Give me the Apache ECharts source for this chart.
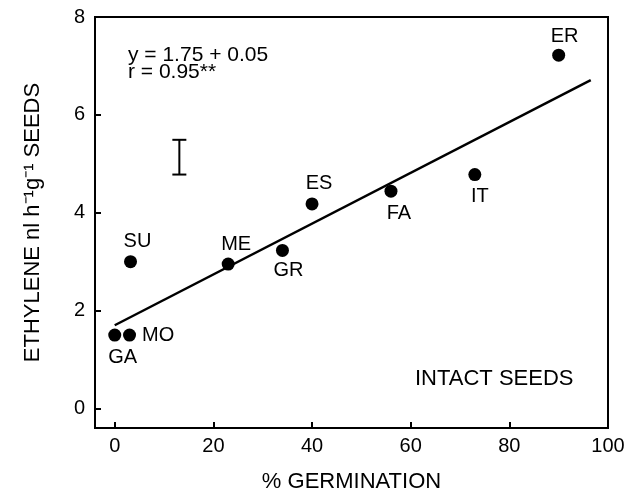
<!DOCTYPE html>
<html>
<head>
<meta charset="utf-8">
<script src="https://cdn.jsdelivr.net/npm/echarts@6/dist/echarts.min.js"></script>
<style>
	html, body { margin: 0; padding: 0; background: #fff; }
	#chart { width: 628px; height: 498px; }
</style>
</head>
<body>
<div id="chart"></div>
<script>
// cultivar codes, % germination, ethylene (nl h-1 g-1)
var cultivars = ['GA', 'MO', 'SU', 'ME', 'GR', 'ES', 'FA', 'IT', 'ER'];
var germination = [0, 3, 3.2, 23, 34, 40, 56, 73, 90];
var ethylene = [1.5, 1.5, 3.0, 2.95, 3.23, 4.18, 4.44, 4.78, 7.22];

// regression line as drawn (end points)
var fitLine = [[0, 1.7], [96.5, 6.71]];
// error bar: x, low, high
var errorBar = [[13.1, 4.78, 5.49]];

var xTicks = [0, 20, 40, 60, 80, 100];
var yTicks = [0, 2, 4, 6, 8];

// where each code sits next to its dot
var labelPlace = {
	GA: { position: 'bottom', distance: 6, offset: [8, 0] },
	MO: { position: 'right', distance: 6, offset: [0, 0] },
	SU: { position: 'top', distance: 4, offset: [7, 0] },
	ME: { position: 'top', distance: 3, offset: [8, 0] },
	GR: { position: 'bottom', distance: 4, offset: [6, 0] },
	ES: { position: 'top', distance: 4, offset: [7, 0] },
	FA: { position: 'bottom', distance: 6, offset: [8, 0] },
	IT: { position: 'bottom', distance: 5, offset: [5, 0] },
	ER: { position: 'top', distance: 2, offset: [6, 0] }
};

var font = 'Liberation Sans, Arial, sans-serif';

function buildPoints() {
	return cultivars.map(function(name, i) {
		var p = labelPlace[name];
		return {
			name: name,
			value: [germination[i], ethylene[i]],
			label: {
				show: true,
				formatter: '{b}',
				position: p.position,
				distance: p.distance,
				offset: p.offset
			}
		};
	});
}

function errorBarItem(params, api) {
	var top = api.coord([api.value(0), api.value(2)]);
	var bot = api.coord([api.value(0), api.value(1)]);
	var w = 7;
	var st = { stroke: '#000', lineWidth: 2 };
	return {
		type: 'group',
		children: [
			{ type: 'line', shape: { x1: top[0], y1: top[1], x2: bot[0], y2: bot[1] }, style: st },
			{ type: 'line', shape: { x1: top[0] - w, y1: top[1], x2: top[0] + w, y2: top[1] }, style: st },
			{ type: 'line', shape: { x1: bot[0] - w, y1: bot[1], x2: bot[0] + w, y2: bot[1] }, style: st }
		]
	};
}

var option = {
	animation: false,
	backgroundColor: '#fff',
	textStyle: { fontFamily: font, color: '#000' },
	grid: {
		left: 95,
		right: 20,
		top: 17,
		bottom: 67,
		show: true,
		borderColor: '#000',
		borderWidth: 2
	},
	xAxis: {
		type: 'value',
		min: -4,
		max: 100,
		name: '% GERMINATION',
		nameLocation: 'middle',
		nameGap: 43,
		nameTextStyle: { fontSize: 22, color: '#000', fontFamily: font },
		axisLine: { onZero: false, lineStyle: { color: '#000', width: 2 } },
		axisTick: { inside: true, length: 6, lineStyle: { color: '#000', width: 2 }, customValues: xTicks },
		axisLabel: { fontSize: 20, color: '#000', margin: 8, fontFamily: font, customValues: xTicks },
		splitLine: { show: false }
	},
	yAxis: {
		type: 'value',
		min: -0.4,
		max: 8,
		name: 'ETHYLENE nl h\u207B\u00B9g\u207B\u00B9 SEEDS',
		nameLocation: 'middle',
		nameGap: 51,
		nameTextStyle: { fontSize: 22, color: '#000', fontFamily: font },
		axisLine: { onZero: false, lineStyle: { color: '#000', width: 2 } },
		axisTick: { inside: true, length: 6, lineStyle: { color: '#000', width: 2 }, customValues: yTicks },
		axisLabel: { fontSize: 20, color: '#000', margin: 10, fontFamily: font, customValues: yTicks },
		splitLine: { show: false }
	},
	graphic: [
		{ type: 'text', left: 128, top: 45, style: { text: 'y = 1.75 + 0.05', font: '21px ' + font, fill: '#000' } },
		{ type: 'text', left: 128, top: 62, style: { text: 'r = 0.95**', font: '21px ' + font, fill: '#000' } },
		{ type: 'text', left: 415, top: 368, style: { text: 'INTACT SEEDS', font: '22px ' + font, fill: '#000' } }
	],
	series: [
		{
			type: 'line',
			data: fitLine,
			symbol: 'none',
			lineStyle: { color: '#000', width: 2.5 },
			z: 2
		},
		{
			type: 'custom',
			data: errorBar,
			encode: { x: 0, y: [1, 2] },
			renderItem: errorBarItem,
			z: 2
		},
		{
			type: 'scatter',
			data: buildPoints(),
			symbolSize: 13,
			itemStyle: { color: '#000', opacity: 1 },
			label: { color: '#000', fontSize: 20, fontFamily: font },
			z: 3
		}
	]
};

var chart = echarts.init(document.getElementById('chart'));
chart.setOption(option);
</script>
</body>
</html>
